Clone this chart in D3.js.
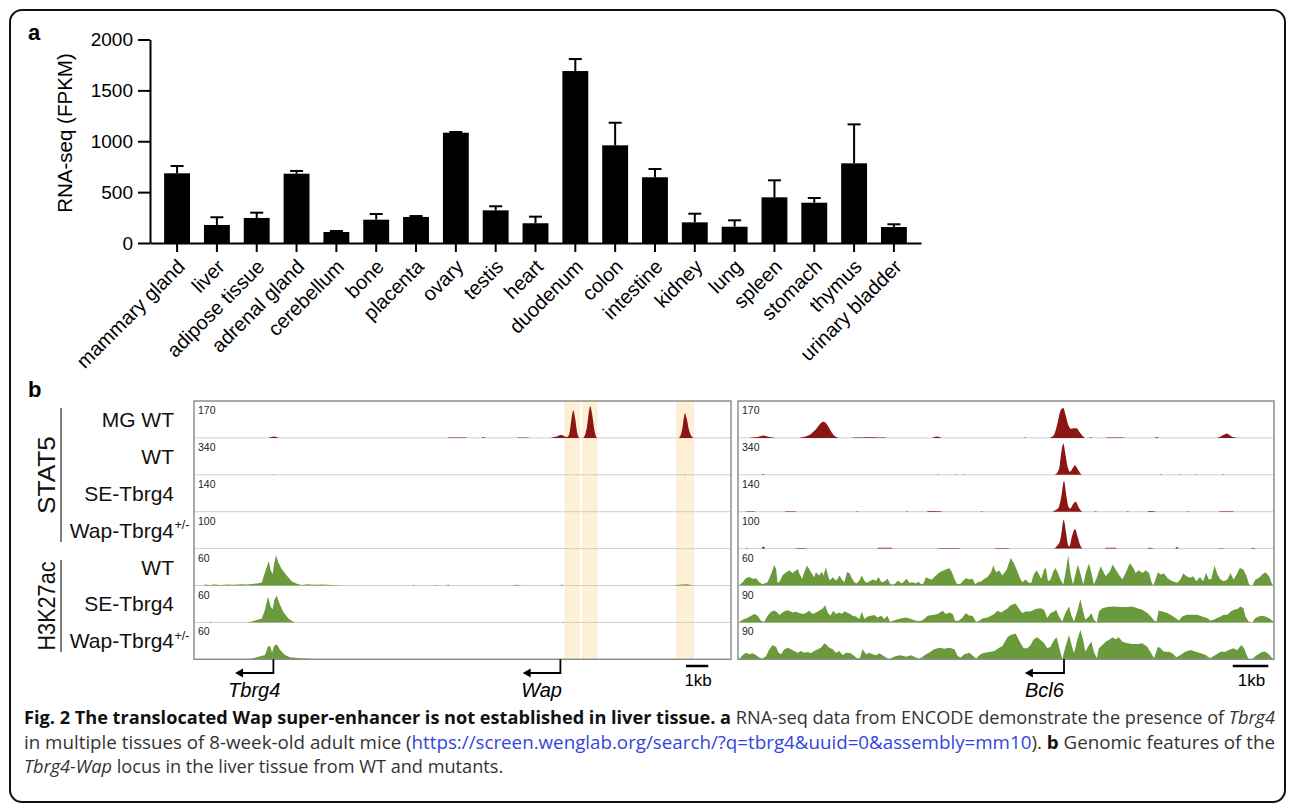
<!DOCTYPE html>
<html><head><meta charset="utf-8">
<script src="https://cdn.jsdelivr.net/npm/d3@7"></script>
<style>
body{margin:0;background:#fff}
svg{display:block}
text{font-family:"Liberation Sans",Arial,Helvetica,sans-serif}
</style>
</head><body>
<svg id="c" width="1293" height="808"></svg>
<script>
// ---------------- Panel a data ----------------
const categories = ["mammary gland","liver","adipose tissue","adrenal gland","cerebellum","bone","placenta","ovary","testis","heart","duodenum","colon","intestine","kidney","lung","spleen","stomach","thymus","urinary bladder"];
const fpkm    = [685,177,246,681,108,229,256,1084,321,194,1690,960,646,203,160,449,396,783,157];
const fpkmErr = [72,76,52,27,10,56,9,7,40,65,118,222,81,85,63,167,46,383,27];
const yTicks  = [0,500,1000,1500,2000];

// ---------------- Panel b data ----------------
const trackLabels = ["MG WT","WT","SE-Tbrg4","Wap-Tbrg4","WT","SE-Tbrg4","Wap-Tbrg4"];
const trackSup    = ["","","","+/-","","","+/-"];
const trackMark   = ["STAT5","STAT5","STAT5","STAT5","H3K27ac","H3K27ac","H3K27ac"];
const leftScales  = [170,340,140,100,60,60,60];
const rightScales = [170,340,140,100,60,90,90];
const leftSpanKb  = 24.08;
const rightSpanKb = 15.06;
const highlightsKb = [[16.61,17.31],[17.41,18.10],[21.61,22.43]];
const genes = [
  {name:"Tbrg4", region:"left",  tss:3.56,  tip:1.84},
  {name:"Wap",   region:"left",  tss:16.43, tip:14.74},
  {name:"Bcl6",  region:"right", tss:9.16,  tip:8.06}
];
const scaleBarsKb = {left:[22.06,23.06], right:[13.9,14.9]};

// signal profiles [position kb, signal]
const L1 = [[0,0],[3.3,0],[3.45,3],[3.59,6],[3.72,3],[3.85,0],[11.35,0],[11.4,2],[11.6,1.5],[11.8,2],[12.0,1.5],[12.2,2],[12.25,0],[12.9,0],[12.95,2.5],[13.1,0],[14.5,0],[14.55,1.5],[14.7,1],[14.9,2],[15.1,0],[15.95,0],[16.1,3],[16.3,8],[16.46,15],[16.6,8],[16.7,4],[16.76,6],[16.85,30],[16.93,90],[17.01,126],[17.09,90],[17.18,25],[17.26,2],[17.3,0],[17.45,0],[17.52,10],[17.62,50],[17.7,115],[17.77,146],[17.85,110],[17.95,40],[18.03,6],[18.08,0],[21.72,0],[21.8,8],[21.9,45],[21.97,95],[22.02,115],[22.09,90],[22.2,35],[22.33,5],[22.4,0],[24.08,0]];
const L2 = [[0,0],[3.55,0],[3.58,6],[3.62,0],[21.98,0],[22.02,6],[22.06,0],[24.08,0]];
const L3 = [[0,0],[24.08,0]];
const L4 = [[0,0],[24.08,0]];
const L5 = [[0,0],[0.4,0],[0.5,1.5],[0.7,1],[0.9,1.8],[1.2,1],[1.5,1.5],[1.8,1.2],[2.1,2],[2.36,1.5],[2.6,2.5],[2.9,3.5],[3.04,5],[3.11,13.6],[3.26,30],[3.35,39.8],[3.44,24.5],[3.53,19],[3.59,35.4],[3.68,49],[3.78,38],[3.93,27],[4.16,16.4],[4.38,7],[4.61,2.7],[4.83,1],[5.1,2],[5.4,1.2],[5.8,1.5],[6.2,1],[6.5,0.5],[6.6,0],[9.8,0],[9.85,1.2],[9.9,0],[10.8,0],[10.9,1],[11.0,0],[11.3,0],[11.4,1.5],[11.5,0],[14.3,0],[14.4,1.2],[14.6,1],[14.7,0],[16.4,0],[16.5,1.5],[16.6,0],[21.5,0],[21.6,1],[21.9,1.5],[22.1,2],[22.3,1],[22.5,0],[24.08,0]];
const L6 = [[0,0],[0.7,0],[0.75,1.5],[0.8,0],[2.36,0],[2.6,1.5],[2.81,3.8],[3.04,6.5],[3.18,20],[3.32,42],[3.44,25.6],[3.53,21.3],[3.6,36.5],[3.71,43.6],[3.83,31],[4.0,17.4],[4.23,6.5],[4.45,1.1],[4.55,0],[16.5,0],[16.55,1.2],[16.6,0],[24.08,0]];
const L7 = [[0,0],[2.36,0],[2.6,1.5],[2.81,3.3],[3.18,7],[3.32,20.7],[3.41,21.8],[3.5,10.9],[3.59,21.8],[3.71,24.5],[3.86,15.3],[4.08,7],[4.3,3.3],[4.75,1.6],[5.2,1],[5.5,0],[5.9,0],[6.0,1],[6.1,0],[24.08,0]];

const R1 = [[0,0],[0.3,0],[0.4,1.5],[0.55,4],[0.71,11],[0.85,5],[0.98,1.5],[1.05,0],[1.7,0],[1.77,2],[1.9,6],[2.05,18],[2.2,42],[2.32,66],[2.4,74],[2.48,66],[2.58,40],[2.68,15],[2.78,3],[2.85,0],[3.2,0],[3.25,2],[3.5,2],[3.7,2.5],[3.9,2],[4.1,2],[4.2,0],[5.45,0],[5.52,4],[5.58,7],[5.66,4],[5.72,0],[8.0,0],[8.05,2],[8.1,0],[8.75,0],[8.81,4],[8.9,22],[8.98,70],[9.06,125],[9.14,138],[9.2,108],[9.28,60],[9.36,42],[9.44,44],[9.51,44],[9.6,26],[9.7,6],[9.75,0],[9.85,0],[9.9,2],[10.0,0],[10.3,0],[10.4,2],[10.6,2],[10.8,2],[10.9,0],[11.7,0],[11.75,2.5],[11.85,0],[13.45,0],[13.55,5],[13.65,14],[13.73,20],[13.82,12],[13.9,4],[13.96,2],[14.05,0],[15.06,0]];
const R2 = [[0,0],[0.65,0],[0.7,8],[0.78,0],[5.6,0],[5.62,5],[5.66,0],[6.1,0],[6.12,5],[6.16,0],[6.3,0],[6.33,5],[6.37,0],[8.88,0],[8.95,12],[9.03,70],[9.09,220],[9.14,288],[9.2,190],[9.27,65],[9.33,28],[9.4,60],[9.47,89],[9.55,48],[9.62,12],[9.68,0],[11.85,0],[11.88,5],[11.92,0],[12.4,0],[12.43,5],[12.47,0],[12.85,0],[12.88,5],[12.92,0],[13.6,0],[13.63,5],[13.68,0],[15.06,0]];
const R3 = [[0,0],[0.2,0],[0.25,2],[0.45,2],[0.5,0],[1.3,0],[1.35,2],[1.6,2],[1.65,0],[3.3,0],[3.35,2],[3.4,0],[4.7,0],[4.75,2],[4.8,0],[5.3,0],[5.35,2.5],[5.7,2],[5.75,0],[6.8,0],[6.85,2],[6.9,0],[8.82,0],[8.9,5],[9.0,14],[9.08,55],[9.16,117],[9.22,65],[9.28,20],[9.34,12],[9.41,28],[9.49,38],[9.56,20],[9.63,5],[9.7,0],[10.0,0],[10.05,2],[10.1,0],[10.9,0],[10.95,2],[11.0,0],[11.5,0],[11.55,2.5],[11.7,2],[11.75,0],[12.6,0],[12.65,2],[12.7,0],[13.5,0],[13.55,2],[13.9,2],[13.95,0],[15.06,0]];
const R4 = [[0,0],[0.2,0],[0.25,1.5],[0.3,0],[0.65,0],[0.71,6],[0.78,0],[1.6,0],[1.65,1.5],[1.9,1.5],[1.95,0],[3.9,0],[3.95,2],[4.3,2],[4.35,0],[5.6,0],[5.65,1.5],[6.2,1.5],[6.25,0],[7.2,0],[7.25,1.5],[7.6,1.5],[7.65,0],[8.85,0],[8.95,6],[9.05,22],[9.1,50],[9.15,78],[9.21,48],[9.27,12],[9.31,6],[9.38,32],[9.47,53],[9.55,30],[9.62,8],[9.7,0],[10.3,0],[10.35,2],[10.6,2],[10.65,0],[11.5,0],[11.55,2],[11.7,0],[12.28,0],[12.33,4],[12.4,0],[13.5,0],[13.55,1.5],[13.7,0],[14.4,0],[14.45,2.5],[14.6,0],[15.06,0]];
const R5 = [[0,0],[0.04,1],[0.13,5.4],[0.22,11.9],[0.32,14],[0.41,10.8],[0.51,11.9],[0.6,5.4],[0.69,2.2],[0.83,5.4],[0.93,18.9],[1.02,33.5],[1.07,27],[1.11,5.4],[1.16,5.4],[1.25,16.2],[1.35,21.6],[1.44,24.3],[1.54,20.5],[1.61,23.8],[1.68,27],[1.74,17.3],[1.8,10.8],[1.86,21.6],[1.94,32.4],[2.0,27],[2.08,18.9],[2.14,13.5],[2.19,21.6],[2.28,16.2],[2.36,22.7],[2.4,16.2],[2.47,29.7],[2.53,16.2],[2.58,8.1],[2.66,13.5],[2.72,9.7],[2.77,8.1],[2.85,16.2],[2.92,9.7],[2.99,5.4],[3.06,21.6],[3.13,20.5],[3.2,11.9],[3.27,5.4],[3.33,3.2],[3.41,8.1],[3.48,16.2],[3.55,7.6],[3.61,4.3],[3.69,6.5],[3.78,9.7],[3.88,7.6],[3.95,14],[4.03,5.4],[4.11,6.5],[4.2,10.8],[4.27,3.2],[4.34,1.1],[4.42,3.2],[4.48,7.6],[4.53,6.5],[4.59,3.2],[4.64,5.4],[4.74,10.8],[4.81,4.3],[4.91,5.4],[5.0,3.2],[5.07,6.5],[5.14,2.2],[5.21,3.2],[5.28,13.5],[5.36,10.8],[5.45,9.7],[5.56,16.2],[5.67,21.6],[5.8,25.4],[5.94,28.1],[6.01,21.6],[6.08,10.8],[6.14,3.2],[6.24,2.2],[6.33,8.1],[6.4,11.9],[6.5,9.7],[6.59,10.8],[6.67,2.2],[6.73,5.4],[6.83,6.5],[6.92,10.8],[7.01,14],[7.11,21.6],[7.17,32.4],[7.25,21.6],[7.34,24.3],[7.43,16.2],[7.55,25.9],[7.66,44.8],[7.75,36.7],[7.85,23.2],[7.92,12.4],[7.99,5.4],[8.08,9.7],[8.17,4.3],[8.24,4.3],[8.31,17.8],[8.39,24.8],[8.46,17.8],[8.52,10.8],[8.6,25.9],[8.65,28.6],[8.71,7],[8.78,9.7],[8.86,23.2],[8.92,28.6],[8.99,20.5],[9.06,9.7],[9.14,1.6],[9.2,20.5],[9.28,48.6],[9.34,20.5],[9.41,1.6],[9.48,17.8],[9.55,34],[9.63,17.8],[9.7,1.6],[9.77,20.5],[9.86,35.6],[9.92,23.2],[10.0,1.6],[10.08,12.4],[10.19,31.3],[10.26,23.2],[10.33,15.1],[10.45,23.2],[10.53,34],[10.61,25.9],[10.7,17.8],[10.8,9.7],[10.89,20.5],[11.01,36.7],[11.11,28.6],[11.17,20.5],[11.26,24.8],[11.36,20.5],[11.45,24.8],[11.55,20.5],[11.61,7],[11.67,0],[11.73,9.7],[11.8,21.6],[11.87,17.8],[11.97,19.4],[12.06,12.4],[12.15,8.6],[12.25,5.9],[12.34,4.3],[12.43,9.7],[12.51,19.4],[12.6,15.1],[12.7,12.4],[12.79,15.1],[12.88,7],[12.98,14],[13.07,7],[13.15,20.5],[13.23,9.7],[13.3,10.8],[13.39,32.4],[13.47,17.8],[13.56,9.7],[13.65,7],[13.75,9.7],[13.84,20.5],[13.92,9.7],[14.01,17.8],[14.1,28.6],[14.2,25.9],[14.29,15.1],[14.36,1.6],[14.45,0],[14.54,9.7],[14.64,12.4],[14.73,17.8],[14.82,21.6],[14.92,15.1],[15.01,1.6],[15.06,0]];
const R6 = [[0,0],[0.04,1.6],[0.13,6.5],[0.22,9.7],[0.37,16.2],[0.46,20.3],[0.55,16.2],[0.65,4.1],[0.74,1.6],[0.83,16.2],[0.93,25.9],[1.02,29.2],[1.11,24.3],[1.16,17.8],[1.25,24.3],[1.35,29.2],[1.44,28.4],[1.54,24.3],[1.63,25.9],[1.72,22.7],[1.82,20.3],[1.91,22.7],[2.0,28.4],[2.1,20.3],[2.19,24.3],[2.28,28.4],[2.38,34],[2.45,42.1],[2.52,24.3],[2.59,16.2],[2.68,28.4],[2.75,20.3],[2.85,24.3],[2.92,20.3],[2.99,27.5],[3.06,24.3],[3.15,20.3],[3.22,16.2],[3.31,14.6],[3.41,8.1],[3.48,25.9],[3.55,8.1],[3.64,14.6],[3.74,16.2],[3.83,17.8],[3.92,12.2],[4.02,16.2],[4.11,8.1],[4.2,16.2],[4.27,1.6],[4.34,3.2],[4.44,6.5],[4.58,9.7],[4.72,12.2],[4.86,8.1],[5.0,4.1],[5.14,3.2],[5.23,8.1],[5.33,16.2],[5.47,17.8],[5.61,20.3],[5.75,28.4],[5.84,20.3],[5.94,24.3],[6.03,20.3],[6.1,4.1],[6.2,4.1],[6.31,12.2],[6.4,22.7],[6.5,16.2],[6.59,16.2],[6.69,1.6],[6.78,4.1],[6.87,9.7],[7.01,12.2],[7.11,16.2],[7.2,20.3],[7.29,28.4],[7.39,24.3],[7.57,34],[7.66,42.1],[7.8,46.2],[7.89,34],[7.99,22.7],[8.08,26.7],[8.22,26.7],[8.36,32.4],[8.5,34.8],[8.6,30.8],[8.69,10.5],[8.78,22.7],[8.88,26.7],[8.94,30.8],[9.02,14.6],[9.11,2.4],[9.2,22.7],[9.3,38.9],[9.36,18.6],[9.44,2.4],[9.53,26.7],[9.62,56.7],[9.7,26.7],[9.76,6.5],[9.86,14.6],[9.93,22.7],[10.0,6.5],[10.08,0],[10.14,26.7],[10.24,34.8],[10.38,37.3],[10.56,38.9],[10.75,37.3],[10.94,37.3],[11.08,38.9],[11.22,34.8],[11.36,30.8],[11.5,22.7],[11.6,14.6],[11.69,4.9],[11.76,2.4],[11.82,29.2],[11.92,26.7],[12.06,22.7],[12.2,16.2],[12.29,10.5],[12.39,4.9],[12.48,14.6],[12.62,18.6],[12.76,18.6],[12.9,18.6],[13.04,14.6],[13.18,10.5],[13.27,4.9],[13.37,6.5],[13.46,10.5],[13.56,14.6],[13.65,18.6],[13.75,18.6],[13.84,26.7],[13.93,30.8],[14.03,32.4],[14.12,38.9],[14.2,34.8],[14.26,14.6],[14.35,2.4],[14.45,0],[14.54,10.5],[14.63,14.6],[14.73,16.2],[14.82,14.6],[14.91,10.5],[15.01,4.9],[15.06,0]];
const R7 = [[0,0],[0.04,1.6],[0.13,9.7],[0.22,16.2],[0.32,12.2],[0.41,14.6],[0.51,9.7],[0.6,4.1],[0.69,1.6],[0.79,8.1],[0.88,24.3],[0.97,34],[1.07,30.8],[1.14,16.2],[1.21,12.2],[1.3,24.3],[1.4,28.4],[1.49,24.3],[1.58,20.3],[1.68,16.2],[1.77,20.3],[1.86,16.2],[1.96,17.8],[2.05,14.6],[2.14,20.3],[2.24,24.3],[2.33,28.4],[2.43,38.9],[2.47,36.5],[2.57,28.4],[2.66,24.3],[2.75,16.2],[2.85,20.3],[2.94,9.7],[3.03,16.2],[3.17,14.6],[3.27,8.1],[3.36,1.6],[3.43,4.1],[3.5,24.3],[3.6,12.2],[3.69,16.2],[3.78,12.2],[3.88,9.7],[3.97,14.6],[4.06,9.7],[4.16,4.1],[4.25,0],[4.34,4.1],[4.44,8.1],[4.58,9.7],[4.72,6.5],[4.86,9.7],[5.0,4.1],[5.09,1.6],[5.19,6.5],[5.28,12.2],[5.37,16.2],[5.51,24.3],[5.66,28.4],[5.8,25.9],[5.94,28.4],[6.08,24.3],[6.17,8.1],[6.26,4.1],[6.36,12.2],[6.5,16.2],[6.61,8.1],[6.69,1.6],[6.78,9.7],[6.87,14.6],[7.06,17.8],[7.2,20.3],[7.34,28.4],[7.43,32.4],[7.57,53.5],[7.66,59.1],[7.8,63.2],[7.87,51],[7.94,38.9],[8.03,26.7],[8.13,26.7],[8.22,34.8],[8.31,48.6],[8.41,53.5],[8.5,47],[8.6,38.9],[8.69,26.7],[8.78,30.8],[8.88,47],[8.95,53.5],[9.02,30.8],[9.11,0],[9.2,30.8],[9.3,59.1],[9.36,38.9],[9.44,14.6],[9.53,46.2],[9.62,71.3],[9.7,46.2],[9.76,18.6],[9.86,34.8],[9.93,42.9],[10.0,18.6],[10.08,2.4],[10.14,26.7],[10.24,34.8],[10.33,42.9],[10.42,47],[10.52,53.5],[10.61,48.6],[10.7,53.5],[10.8,42.9],[10.94,38.9],[11.08,37.3],[11.22,37.3],[11.36,38.9],[11.5,30.8],[11.61,14.6],[11.69,2.4],[11.8,30.8],[11.87,26.7],[11.97,18.6],[12.11,18.6],[12.2,14.6],[12.32,4.9],[12.43,10.5],[12.57,18.6],[12.72,22.7],[12.86,18.6],[13.0,14.6],[13.14,10.5],[13.26,2.4],[13.37,8.1],[13.46,12.9],[13.56,18.6],[13.7,18.6],[13.79,22.7],[13.91,26.7],[14.03,22.7],[14.14,34.8],[14.22,26.7],[14.29,10.5],[14.35,0],[14.45,0],[14.54,8.1],[14.63,12.9],[14.73,18.6],[14.82,18.6],[14.91,12.9],[15.01,2.4],[15.06,0]];

const leftProfiles  = [L1,L2,L3,L4,L5,L6,L7];
const rightProfiles = [R1,R2,R3,R4,R5,R6,R7];

// caption
const captionLines = [
  [{t:"Fig. 2 The translocated Wap super-enhancer is not established in liver tissue. a", b:true},{t:" RNA-seq data from ENCODE demonstrate the presence of "},{t:"Tbrg4", i:true}],
  [{t:"in multiple tissues of 8-week-old adult mice ("},{t:"https://screen.wenglab.org/search/?q=tbrg4&uuid=0&assembly=mm10", link:true},{t:"). "},{t:"b", b:true},{t:" Genomic features of the"}],
  [{t:"Tbrg4-Wap", i:true},{t:" locus in the liver tissue from WT and mutants."}]
];

// ---------------- drawing ----------------
const svg = d3.select("#c");
const RED = "#8a1713", GREEN = "#6b9a3d", HL = "#fdf0d6";

svg.append("rect").attr("x",10).attr("y",10).attr("width",1275).attr("height",792)
  .attr("rx",12).attr("fill","#fff").attr("stroke","#111").attr("stroke-width",2);

// ===== Panel a =====
svg.append("text").attr("x",28).attr("y",40).attr("font-size",22).attr("font-weight","bold").text("a");

const x = d3.scaleBand().domain(categories).range([150,921]).paddingInner(0.35).paddingOuter(0.355);
const y = d3.scaleLinear().domain([0,2000]).range([243,39.5]);
const ga = svg.append("g");

ga.selectAll("rect.bar").data(categories).join("rect")
  .attr("x",c=>x(c)).attr("width",x.bandwidth())
  .attr("y",(c,i)=>y(fpkm[i])).attr("height",(c,i)=>y(0)-y(fpkm[i]))
  .attr("fill","#000");
const eb = ga.selectAll("g.eb").data(categories).join("g");
eb.append("line").attr("x1",c=>x(c)+x.bandwidth()/2).attr("x2",c=>x(c)+x.bandwidth()/2)
  .attr("y1",(c,i)=>y(fpkm[i])).attr("y2",(c,i)=>y(fpkm[i]+fpkmErr[i]))
  .attr("stroke","#000").attr("stroke-width",2);
eb.append("line").attr("x1",c=>x(c)+x.bandwidth()/2-6.5).attr("x2",c=>x(c)+x.bandwidth()/2+6.5)
  .attr("y1",(c,i)=>y(fpkm[i]+fpkmErr[i])).attr("y2",(c,i)=>y(fpkm[i]+fpkmErr[i]))
  .attr("stroke","#000").attr("stroke-width",2);

const yAx = ga.append("g").attr("transform","translate(150,0)")
  .call(d3.axisLeft(y).tickValues(yTicks).tickSize(12).tickSizeOuter(0).tickPadding(5).tickFormat(d3.format("d")));
const xAx = ga.append("g").attr("transform","translate(0,243)")
  .call(d3.axisBottom(x).tickSize(9).tickSizeOuter(0).tickFormat(""));
[yAx,xAx].forEach(g=>{
  g.select(".domain").attr("stroke","#000").attr("stroke-width",2);
  g.selectAll(".tick line").attr("stroke","#000").attr("stroke-width",2);
});
yAx.selectAll(".tick text").attr("font-size",19).attr("fill","#000").attr("font-family","Liberation Sans, Arial, sans-serif");

ga.selectAll("text.cat").data(categories).join("text").attr("class","cat")
  .attr("text-anchor","end").attr("font-size",20).attr("fill","#000")
  .attr("transform",c=>`translate(${x(c)+x.bandwidth()/2+9},${268}) rotate(-45)`)
  .text(c=>c);

ga.append("text").attr("transform","translate(72,133) rotate(-90)").attr("text-anchor","middle")
  .attr("font-size",20.5).text("RNA-seq (FPKM)");

// ===== Panel b =====
svg.append("text").attr("x",28).attr("y",397).attr("font-size",22).attr("font-weight","bold").text("b");

const tracks = d3.scaleBand().domain(d3.range(7)).range([401,659.3]);
const th = tracks.bandwidth();
const xL = d3.scaleLinear().domain([0,leftSpanKb]).range([194,731]);
const xR = d3.scaleLinear().domain([0,rightSpanKb]).range([738,1274]);

function drawRegion(key, xs, profiles, scales){
  const g = svg.append("g");
  const [x0,x1] = xs.range();
  g.append("rect").attr("x",x0).attr("y",401).attr("width",x1-x0).attr("height",659.3-401).attr("fill","#fff");
  const clipId = "clip-"+key;
  svg.append("clipPath").attr("id",clipId).append("rect").attr("x",x0).attr("y",401).attr("width",x1-x0).attr("height",659.3-401);
  if(key==="left"){
    g.selectAll("rect.hl").data(highlightsKb).join("rect")
      .attr("x",d=>xs(d[0])).attr("width",d=>xs(d[1])-xs(d[0]))
      .attr("y",401).attr("height",659.3-401).attr("fill",HL);
  }
  g.selectAll("line.sep").data(d3.range(1,7)).join("line")
    .attr("x1",x0).attr("x2",x1).attr("y1",i=>tracks(i)).attr("y2",i=>tracks(i))
    .attr("stroke","#cfcfcf").attr("stroke-width",1);
  const ga2 = g.append("g").attr("clip-path",`url(#${clipId})`);
  profiles.forEach((prof,i)=>{
    const top = tracks(i), bot = top+th;
    const ys = d3.scaleLinear().domain([0,scales[i]]).range([bot,top]);
    const isStat = i<4;
    const area = d3.area().x(d=>xs(d[0])).y0(bot).y1(d=>ys(d[1]))
      .curve(isStat? d3.curveMonotoneX : d3.curveLinear);
    ga2.append("path").datum(prof).attr("d",area).attr("fill",isStat?RED:GREEN);
    g.append("text").attr("x",x0+4).attr("y",top+13).attr("font-size",10.5).attr("fill","#222").text(scales[i]);
  });
  g.append("rect").attr("x",x0).attr("y",401).attr("width",x1-x0).attr("height",659.3-401)
    .attr("fill","none").attr("stroke","#8e8e8e").attr("stroke-width",1.5);

  genes.filter(d=>d.region===key).forEach(d=>{
    const xt = xs(d.tss), xp = xs(d.tip);
    g.append("path").attr("d",`M${xt},659.3 V673 H${xp+6}`).attr("fill","none").attr("stroke","#000").attr("stroke-width",1.8);
    g.append("path").attr("d",`M${xp},673 l8,-4.5 v9 z`).attr("fill","#000");
    g.append("text").attr("x",(xt+xp)/2).attr("y",697).attr("text-anchor","middle")
      .attr("font-size",20).attr("font-style","italic").text(d.name);
  });
  const sb = scaleBarsKb[key];
  g.append("line").attr("x1",xs(sb[0])).attr("x2",xs(sb[1])).attr("y1",666).attr("y2",666).attr("stroke","#000").attr("stroke-width",2.5);
  g.append("text").attr("x",(xs(sb[0])+xs(sb[1]))/2+1).attr("y",686).attr("text-anchor","middle").attr("font-size",17).text("1kb");
}
drawRegion("left", xL, leftProfiles, leftScales);
drawRegion("right", xR, rightProfiles, rightScales);

trackLabels.forEach((lab,i)=>{
  const cy = tracks(i)+th/2;
  svg.append("text").attr("x",174).attr("y",cy+7.5).attr("text-anchor","end").attr("font-size",21).attr("fill","#111").text(lab);
  if(trackSup[i]) svg.append("text").attr("x",174.5).attr("y",cy-1).attr("font-size",12.5).attr("fill","#111").text(trackSup[i]);
});
const groups = [{name:"STAT5", y0:408, y1:542, len:78},{name:"H3K27ac", y0:560, y1:652, len:89}];
groups.forEach(gp=>{
  svg.append("line").attr("x1",61).attr("x2",61).attr("y1",gp.y0).attr("y2",gp.y1).attr("stroke","#555").attr("stroke-width",1.5);
  svg.append("text").attr("transform",`translate(55,${(gp.y0+gp.y1)/2}) rotate(-90)`).attr("text-anchor","middle")
    .attr("font-size",23).attr("fill","#111").attr("textLength",gp.len).attr("lengthAdjust","spacingAndGlyphs").text(gp.name);
});

// caption
const capY = [724,749,773];
const widths = [];
captionLines.forEach((line,li)=>{
  const t = svg.append("text").attr("x",24).attr("y",capY[li]).attr("font-size",17.5)
    .style("font-family","'Open Sans', 'Noto Sans', sans-serif").style("white-space","pre").attr("fill","#333");
  line.forEach(seg=>{
    const ts = t.append("tspan").text(seg.t);
    if(seg.b) ts.attr("font-weight","bold").attr("fill","#111");
    if(seg.i) ts.attr("font-style","italic");
    if(seg.link) ts.attr("fill","#3344dd");
  });
  widths.push(t.node().getComputedTextLength());
  t.attr("data-li",li);
});
const ratio = 1251/widths[0];
svg.selectAll("text[data-li]").each(function(){
  const li = +this.getAttribute("data-li");
  const tl = li<2 ? 1251 : widths[li]*ratio;
  d3.select(this).attr("textLength",tl).attr("lengthAdjust","spacingAndGlyphs");
});
</script>
</body></html>
